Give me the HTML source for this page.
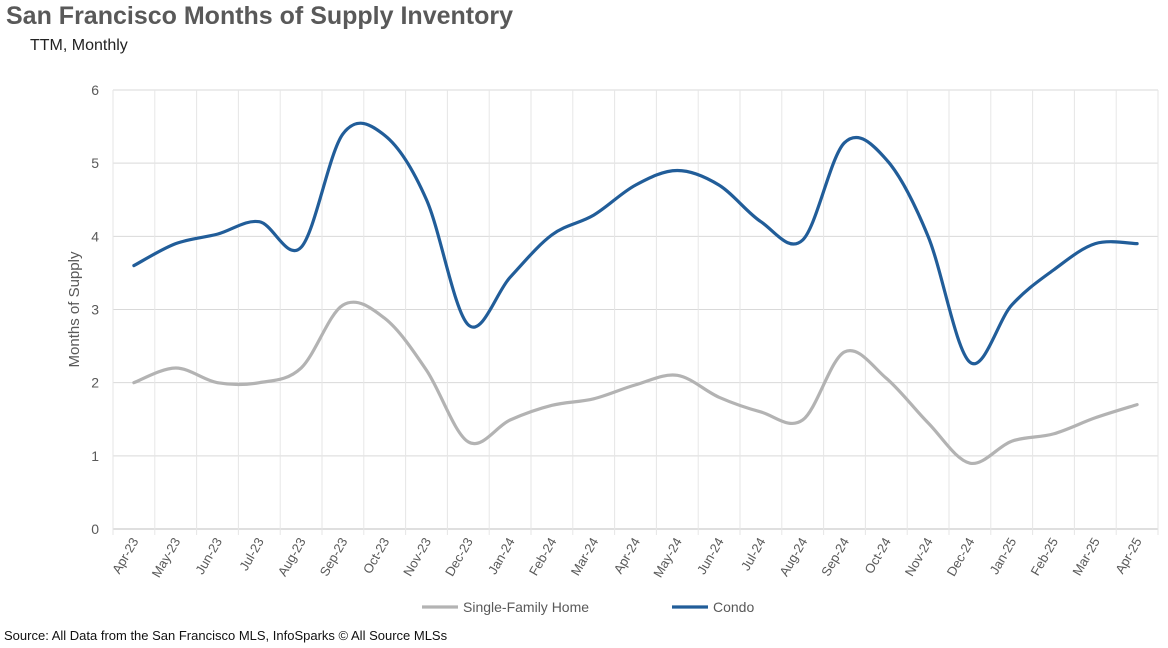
<!DOCTYPE html>
<html><head><meta charset="utf-8">
<style>
html,body{margin:0;padding:0;background:#fff;}
body{width:1168px;height:648px;overflow:hidden;font-family:"Liberation Sans",sans-serif;position:relative;}
#title{position:absolute;left:6px;top:2px;font-size:25px;font-weight:bold;color:#595959;}
#subtitle{position:absolute;left:30px;top:37px;font-size:16px;color:#222;}
#source{position:absolute;left:4px;top:628px;font-size:13px;color:#111;}
svg{position:absolute;left:0;top:0;}
</style></head><body>
<div id="title">San Francisco Months of Supply Inventory</div>
<div id="subtitle">TTM, Monthly</div>
<div id="source">Source: All Data from the San Francisco MLS, InfoSparks © All Source MLSs</div>
<svg id="chart" width="1168" height="648"></svg>
<script>
const categories=["Apr-23","May-23","Jun-23","Jul-23","Aug-23","Sep-23","Oct-23","Nov-23","Dec-23","Jan-24","Feb-24","Mar-24","Apr-24","May-24","Jun-24","Jul-24","Aug-24","Sep-24","Oct-24","Nov-24","Dec-24","Jan-25","Feb-25","Mar-25","Apr-25"];
const sfhValues=[2.0,2.2,2.0,2.0,2.2,3.06,2.88,2.17,1.19,1.49,1.69,1.78,1.97,2.1,1.8,1.6,1.49,2.42,2.06,1.45,0.9,1.2,1.3,1.52,1.7];
const condoValues=[3.6,3.9,4.03,4.2,3.85,5.4,5.38,4.5,2.79,3.44,4.02,4.29,4.7,4.9,4.7,4.2,3.95,5.28,5.05,4.0,2.28,3.06,3.54,3.9,3.9];
const yTicks=[0,1,2,3,4,5,6];
const NS="http://www.w3.org/2000/svg";
const svg=document.getElementById('chart');
const L=113,R=1158,T=90,B=529,yMax=6;
const step=(R-L)/categories.length;
const x=i=>L+step*(i+0.5);
const y=v=>B-(v/yMax)*(B-T);
function mk(tag,attrs,parent){const e=document.createElementNS(NS,tag);for(const k in attrs)e.setAttribute(k,attrs[k]);(parent||svg).appendChild(e);return e;}
yTicks.forEach(t=>{
  const g=mk('line',{x1:L,x2:R,y1:y(t),y2:y(t),stroke:t===0?'#bfbfbf':'#d9d9d9','stroke-width':1});
  
  
  const tx=mk('text',{x:L-14,y:y(t)+5,'text-anchor':'end','font-size':14,fill:'#595959'});
  tx.textContent=t;
  
  
});
for(let i=0;i<=categories.length;i++){
  const tk=mk('line',{x1:L+step*i,x2:L+step*i,y1:y(yMax),y2:B+6,stroke:'#e6e6e6','stroke-width':1});
  
  
}
categories.forEach((c,i)=>{
  const tx=mk('text',{x:0,y:0,'text-anchor':'end','font-size':13,fill:'#595959',transform:`translate(${x(i)+5},${B+12}) rotate(-60)`});
  tx.textContent=c;
  
  
});
const yt=mk('text',{x:0,y:0,'text-anchor':'middle','font-size':15,fill:'#595959',transform:`translate(79,${(T+B)/2}) rotate(-90)`});
yt.textContent='Months of Supply';


function smooth(vals){
  const p=vals.map((v,i)=>[x(i),y(v)]);
  let d=`M${p[0][0]},${p[0][1]}`;
  for(let i=0;i<p.length-1;i++){
    const p0=p[i-1]||p[i],p1=p[i],p2=p[i+1],p3=p[i+2]||p[i+1];
    const c1=[p1[0]+(p2[0]-p0[0])/6,p1[1]+(p2[1]-p0[1])/6];
    const c2=[p2[0]-(p3[0]-p1[0])/6,p2[1]-(p3[1]-p1[1])/6];
    d+=` C${c1[0]},${c1[1]} ${c2[0]},${c2[1]} ${p2[0]},${p2[1]}`;
  }
  return d;
}
const s1=mk('path',{d:smooth(sfhValues),fill:'none',stroke:'#b3b3b3','stroke-width':3.2,'stroke-linecap':'round'});


const s2=mk('path',{d:smooth(condoValues),fill:'none',stroke:'#215d99','stroke-width':3.2,'stroke-linecap':'round'});


const legend=[["Single-Family Home","#b3b3b3",422],["Condo","#215d99",672]];
legend.forEach(([n,c,lx])=>{
  const g=mk('g',{});
  
  
  mk('line',{x1:lx,x2:lx+36,y1:607,y2:607,stroke:c,'stroke-width':3.2},g);
  const t=mk('text',{x:lx+41,y:612,'font-size':14,fill:'#595959'},g);
  t.textContent=n;
});
</script>
</body></html>
